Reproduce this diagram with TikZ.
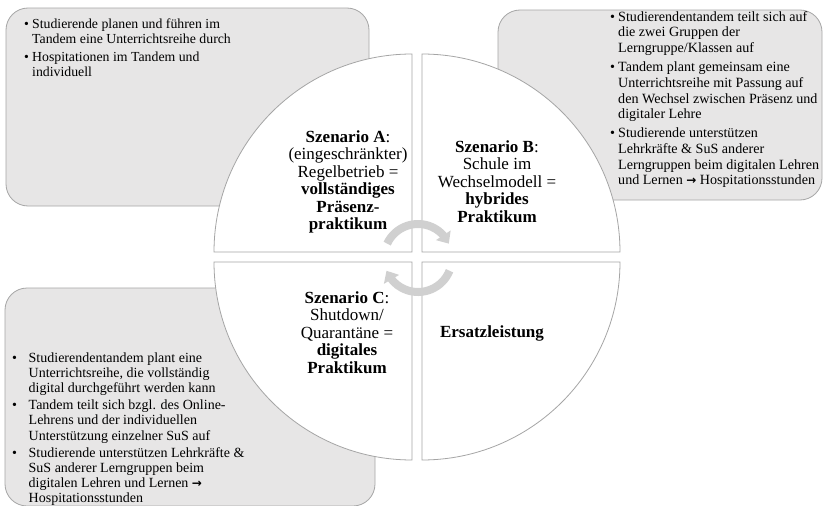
\documentclass[tikz,border=0pt]{standalone}
\usepackage{fontspec}
\setmainfont{Liberation Serif}
\newfontfamily\arrowfont{DejaVu Sans}
\usetikzlibrary{arrows.meta,bending,calc}
\definecolor{boxfill}{RGB}{231,230,230}
\definecolor{boxline}{RGB}{166,166,166}
\definecolor{secline}{RGB}{165,165,165}
\definecolor{cyc}{RGB}{208,208,208}
\newcommand\bul[1][8pt]{\makebox[#1][l]{\textbullet}}
\newcommand\ind[1][8pt]{\hspace*{#1}}
\newcommand\arr{{\arrowfont\bfseries\fontsize{12}{12}\selectfont →}}
\begin{document}
\begin{tikzpicture}[x=1pt,y=-1pt,
  callout/.style={draw=boxline,fill=boxfill,line width=0.8pt,rounded corners=22pt},
  sector/.style={draw=secline,fill=white,line width=0.8pt},
  cycarrow/.style={draw=cyc,line width=8pt,-{Triangle[width=17pt,length=10pt]}},
  maintext/.style={anchor=base,inner sep=0pt,font=\fontsize{17}{17.6}\selectfont},
  listtext/.style={anchor=base west,inner sep=0pt},
]
\useasboundingbox (0,0) rectangle (823,506);
\fill[white] (0,0) rectangle (823,506);
% callout boxes
\draw[callout] (6,8) rectangle (369,206);
\draw[callout] (498,10) rectangle (822,200);
\draw[callout] (5,288) rectangle (375,506);
% sectors
\draw[sector] (412,252) -- (214,252) arc[start angle=180,end angle=90,radius=198pt] -- cycle;
\draw[sector] (422,252) -- (422,54) arc[start angle=90,end angle=0,radius=198pt] -- cycle;
\draw[sector] (412,262) -- (214,262) arc[start angle=180,end angle=270,radius=198pt] -- cycle;
\draw[sector] (422,262) -- (620,262) arc[start angle=0,end angle=-90,radius=198pt] -- cycle;
% cycle arrows
\coordinate (cc) at (418,258);
\draw[cycarrow] ($(cc)+(155:34pt)$) arc[start angle=155,end angle=25,radius=34pt];
\draw[cycarrow] ($(cc)+(-22:34pt)$) arc[start angle=-22,end angle=-158,radius=34pt];
% sector texts
\node[maintext] (tA) at (348,142) {\begin{tabular}[t]{@{}c@{}}\textbf{Szenario A}:\\(eingeschränkter)\\Regelbetrieb =\\\textbf{vollständiges}\\\textbf{Präsenz-}\\\textbf{praktikum}\end{tabular}};
\node[maintext] (tB) at (497,152) {\begin{tabular}[t]{@{}c@{}}\textbf{Szenario B}:\\Schule im\\Wechselmodell =\\\textbf{hybrides}\\\textbf{Praktikum}\end{tabular}};
\node[maintext] (tC) at (347,303) {\begin{tabular}[t]{@{}c@{}}\textbf{Szenario C}:\\Shutdown/\\Quarantäne =\\\textbf{digitales}\\\textbf{Praktikum}\end{tabular}};
\node[maintext] (tD) at (492,337) {\textbf{Ersatzleistung}};
% callout texts
\node[listtext,font=\fontsize{13.8}{15.8}\selectfont] (lA) at (24,28) {\begin{tabular}[t]{@{}l@{}}
\bul Studierende planen und führen im\\
\ind Tandem eine Unterrichtsreihe durch\\[1.5pt]
\bul Hospitationen im Tandem und\\
\ind individuell
\end{tabular}};
\node[listtext,font=\fontsize{14.1}{15.8}\selectfont] (lB) at (610,21) {\begin{tabular}[t]{@{}l@{}}
\bul Studierendentandem teilt sich auf\\
\ind die zwei Gruppen der\\
\ind Lerngruppe/Klassen auf\\[3pt]
\bul Tandem plant gemeinsam eine\\
\ind Unterrichtsreihe mit Passung auf\\
\ind den Wechsel zwischen Präsenz und\\
\ind digitaler Lehre\\[3pt]
\bul Studierende unterstützen\\
\ind Lehrkräfte \& SuS anderer\\
\ind Lerngruppen beim digitalen Lehren\\
\ind und Lernen \arr{} Hospitationsstunden
\end{tabular}};
\node[listtext,font=\fontsize{14}{15.2}\selectfont] (lC) at (12,362) {\begin{tabular}[t]{@{}l@{}}
\bul[13pt] Studierendentandem plant eine\\
\ind[13pt] Unterrichtsreihe, die vollständig\\
\ind[13pt] digital durchgeführt werden kann\\[2pt]
\bul[13pt] Tandem teilt sich bzgl. des Online-\\
\ind[13pt] Lehrens und der individuellen\\
\ind[13pt] Unterstützung einzelner SuS auf\\[2pt]
\bul[13pt] Studierende unterstützen Lehrkräfte \&\\
\ind[13pt] SuS anderer Lerngruppen beim\\
\ind[13pt] digitalen Lehren und Lernen \arr\\
\ind[13pt] Hospitationsstunden
\end{tabular}};
\end{tikzpicture}
\end{document}
